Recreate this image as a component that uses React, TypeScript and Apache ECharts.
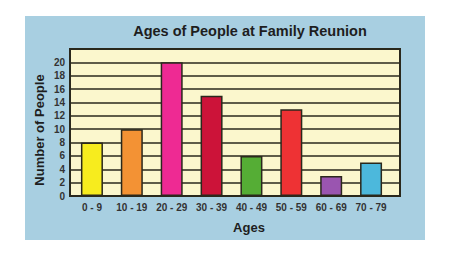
import React, { useEffect, useRef } from "react";
import * as echarts from "echarts";

const categories = ["0 - 9", "10 - 19", "20 - 29", "30 - 39", "40 - 49", "50 - 59", "60 - 69", "70 - 79"];
const counts = [8, 10, 20, 15, 6, 13, 3, 5];
const barColors = ["#f7ec1e", "#f39234", "#ee2a93", "#cc1339", "#55ad35", "#ee3234", "#9a55b0", "#4cb8dc"];

const FONT = "'Liberation Sans', Arial, sans-serif";
const LINE = "#2a281c";

export default function App() {
  const ref = useRef<HTMLDivElement>(null);
  useEffect(() => {
    if (!ref.current) return;
    const chart = echarts.init(ref.current, undefined, { renderer: "svg" });
    chart.setOption({
      animation: false,
      backgroundColor: "#ffffff",
      graphic: [
        { type: "rect", z: -10, shape: { x: 25, y: 16, width: 400, height: 224 }, style: { fill: "#a8cfe1" } },
        {
          type: "text", x: 250, y: 31,
          style: { text: "Ages of People at Family Reunion", font: `bold 14.5px ${FONT}`, fill: "#1e1e1e", align: "center", verticalAlign: "middle" },
        },
        {
          type: "text", x: 39, y: 130, rotation: Math.PI / 2,
          style: { text: "Number of People", font: `bold 13px ${FONT}`, fill: "#1e1e1e", align: "center", verticalAlign: "middle" },
        },
        {
          type: "text", x: 249, y: 227,
          style: { text: "Ages", font: `bold 13px ${FONT}`, fill: "#1e1e1e", align: "center", verticalAlign: "middle" },
        },
      ],
      grid: [
        { left: 70, right: 72, top: 49, bottom: 65, show: true, backgroundColor: "#fbf7cd", borderColor: LINE, borderWidth: 2 },
        { left: 72, right: 81, top: 49, bottom: 65 },
      ],
      xAxis: [
        { type: "category", gridIndex: 0, data: categories, show: false },
        {
          type: "category", gridIndex: 1, data: categories,
          axisLine: { show: false }, axisTick: { show: false },
          axisLabel: { color: "#333", fontSize: 10, fontWeight: "bold", fontFamily: FONT, margin: 6, interval: 0 },
        },
      ],
      yAxis: [
        {
          type: "value", gridIndex: 0, min: 0, max: 22, interval: 2,
          axisLine: { show: false }, axisTick: { show: false },
          axisLabel: { color: "#333", fontSize: 10, fontWeight: "bold", fontFamily: FONT, margin: 5, showMaxLabel: false },
          splitLine: { lineStyle: { color: LINE, width: 1.6 } },
        },
        { type: "value", gridIndex: 1, min: 0, max: 22, interval: 2, show: false, splitLine: { show: false } },
      ],
      series: [
        {
          type: "bar", xAxisIndex: 1, yAxisIndex: 1, barWidth: 22,
          data: counts.map((v, i) => ({ value: v, itemStyle: { color: barColors[i] } })),
          itemStyle: { borderColor: LINE, borderWidth: 1.5 },
        },
      ],
    });
    return () => chart.dispose();
  }, []);
  return <div ref={ref} style={{ position: "absolute", left: 0, top: 0, width: 472, height: 261 }} />;
}
